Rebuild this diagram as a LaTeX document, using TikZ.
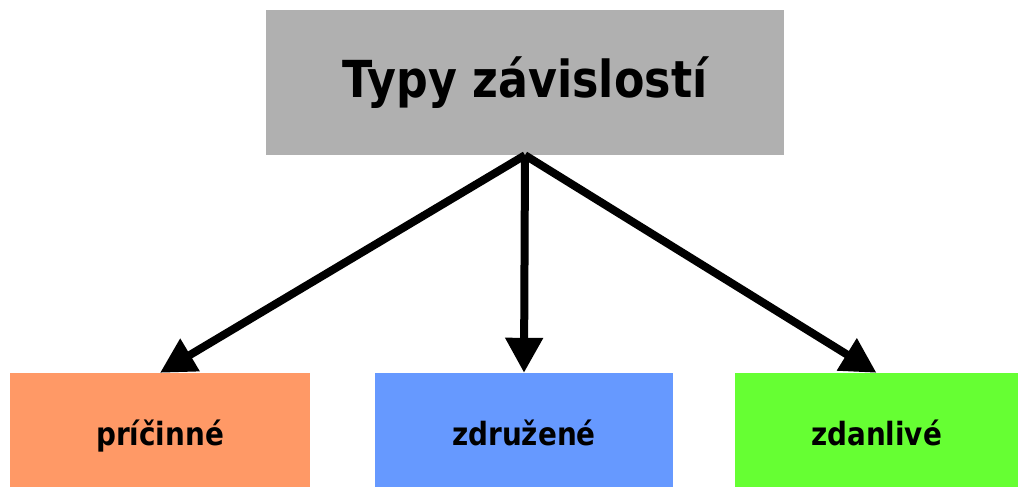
\documentclass[tikz,border=0pt]{standalone}
\usepackage{fontspec}
\newfontfamily\lblfont{DejaVu Sans}[FakeStretch=0.87]
\usetikzlibrary{arrows.meta}
\definecolor{boxgray}{HTML}{B0B0B0}
\definecolor{boxorange}{HTML}{FF9966}
\definecolor{boxblue}{HTML}{6699FF}
\definecolor{boxgreen}{HTML}{66FF33}
\begin{document}
\begin{tikzpicture}[x=1pt,y=-1pt,
  box/.style={rectangle, inner sep=0pt, draw=none, font=\lblfont\bfseries},
  topbox/.style={box, fill=boxgray, minimum width=518pt, minimum height=145pt, font=\lblfont\bfseries\fontsize{51}{60}\selectfont},
  leafbox/.style={box, minimum height=114pt, text height=34pt, text depth=4pt, font=\lblfont\bfseries\fontsize{32}{38}\selectfont},
  link/.style={line width=8pt, -{Triangle[length=35pt,width=36pt]}}
]
\useasboundingbox (0,0) rectangle (1018,487);
\fill[white] (0,0) rectangle (1018,487);

\node[topbox] (top) at (525,82.5) {Typy závislostí};
\node[leafbox, fill=boxorange, minimum width=300pt] (cause) at (160,430) {príčinné};
\node[leafbox, fill=boxblue, minimum width=298pt] (assoc) at (524,430) {združené};
\node[leafbox, fill=boxgreen, minimum width=283pt] (spur) at (876.5,430) {zdanlivé};

\draw[link] (top.south) -- (cause.north);
\draw[link] (top.south) -- (assoc.north);
\draw[link] (top.south) -- (spur.north);
\end{tikzpicture}
\end{document}
